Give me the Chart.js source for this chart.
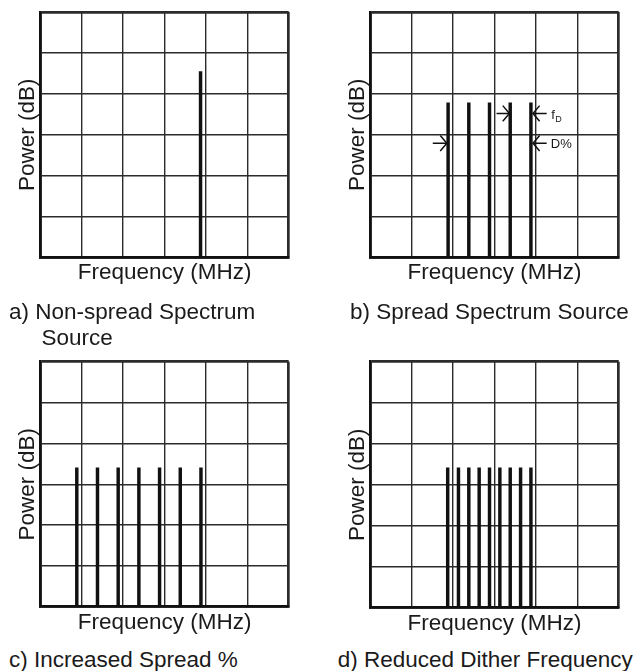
<!DOCTYPE html>
<html><head><meta charset="utf-8">
<script src="https://cdn.jsdelivr.net/npm/chart.js@4"></script>
<style>
html,body{margin:0;padding:0;background:#fff;width:642px;height:671px;overflow:hidden;position:relative;}
.wrap{position:absolute;}
canvas{display:block;}
.cap{position:absolute;font-family:"Liberation Sans",Arial,sans-serif;font-size:22.5px;color:#1a1a1a;white-space:nowrap;line-height:26.3px;}
</style></head><body>
<div class="wrap" style="left:0;top:0"><canvas id="ca" width="321" height="300"></canvas></div>
<div class="wrap" style="left:321px;top:0"><canvas id="cb" width="321" height="300"></canvas></div>
<div class="wrap" style="left:0;top:335px"><canvas id="cc" width="321" height="310"></canvas></div>
<div class="wrap" style="left:321px;top:335px"><canvas id="cd" width="321" height="310"></canvas></div>
<div class="cap" style="left:9px;top:298.5px">a) Non-spread Spectrum<br><span style="padding-left:32.4px">Source</span></div>
<div class="cap" style="left:350px;top:298.5px">b) Spread Spectrum Source</div>
<div class="cap" style="left:9px;top:647px">c) Increased Spread %</div>
<div class="cap" style="left:337.7px;top:647px">d) Reduced Dither Frequency</div>
<script>
// ---- data (grid units: 6 divisions on each axis) ----
const gridTicksX = [0, 1, 2, 3, 4, 5, 6];
const gridTicksY = [0, 1, 2, 3, 4, 5, 6];
const freqA = [3.87];
const powerA = [4.54];
const freqB = [1.88, 2.38, 2.88, 3.38, 3.88];
const powerB = [3.78, 3.78, 3.78, 3.78, 3.78];
const freqC = [0.88, 1.38, 1.88, 2.38, 2.88, 3.38, 3.88];
const powerC = [3.40, 3.40, 3.40, 3.40, 3.40, 3.40, 3.40];
const freqD = [1.87, 2.13, 2.38, 2.63, 2.88, 3.13, 3.38, 3.63, 3.88];
const powerD = [3.41, 3.41, 3.41, 3.41, 3.41, 3.41, 3.41, 3.41, 3.41];
// arrows in panel b: tail x, tip x, y
const arrowTail = [1.51, 3.05, 4.26, 4.26];
const arrowTip  = [1.85, 3.36, 3.93, 3.93];
const arrowY    = [2.79, 3.52, 3.52, 2.79];
const arrowHeadDx = [0.16, 0.16, 0.16, 0.16];
const arrowHeadDy = [0.19, 0.19, 0.19, 0.19];
// labels in panel b
const labelText = ['f', 'D%'];
const labelSub  = ['D', ''];
const labelX    = [4.37, 4.36];
const labelY    = [3.46, 2.76];
const xTitle = 'Frequency (MHz)';
const yTitle = 'Power (dB)';

const FONT = '"Liberation Sans", Arial, sans-serif';
const INK = '#111';
const GRID = '#2b2b2b';

function scaleOpts(ticks, title, pad) {
  return {
    type: 'linear', min: ticks[0], max: ticks[ticks.length - 1], offset: false,
    afterBuildTicks: s => { s.ticks = ticks.map(v => ({value: v})); },
    ticks: {display: false},
    grid: {
      color: GRID, drawTicks: false, offset: false,
      lineWidth: c => (c.tick && (c.tick.value === ticks[0] || c.tick.value === ticks[ticks.length - 1])) ? 2.7 : 1.4
    },
    border: {display: true, color: INK, width: 2.7},
    title: {display: true, text: title, color: '#1a1a1a',
      font: {family: FONT, size: 22.5, lineHeight: 1.15}, padding: pad}
  };
}

const labelPlugin = {
  id: 'sslabels',
  afterDatasetsDraw(chart) {
    const {ctx, scales: {x, y}} = chart;
    ctx.save();
    ctx.fillStyle = '#1a1a1a';
    ctx.textBaseline = 'middle';
    ctx.textAlign = 'left';
    labelText.forEach((t, i) => {
      const px = x.getPixelForValue(labelX[i]);
      const py = y.getPixelForValue(labelY[i]);
      ctx.font = '13px ' + FONT;
      ctx.fillText(t, px, py);
      if (labelSub[i]) {
        const w = ctx.measureText(t).width;
        ctx.font = '9px ' + FONT;
        ctx.fillText(labelSub[i], px + w + 0.5, py + 4);
      }
    });
    ctx.restore();
  }
};

function makePanel(id, freq, power, padding, extra) {
  const datasets = [{
    type: 'bar',
    data: freq.map((f, i) => ({x: f, y: power[i]})),
    backgroundColor: INK, borderWidth: 0, barThickness: 2.8, grouped: false, order: 1
  }];
  if (extra) datasets.push(...extra);
  return new Chart(document.getElementById(id), {
    type: 'bar',
    data: {datasets},
    options: {
      responsive: false, animation: false, devicePixelRatio: 1,
      layout: {padding},
      plugins: {legend: {display: false}, tooltip: {enabled: false}},
      scales: {
        x: scaleOpts(gridTicksX, xTitle, {top: 3, bottom: 0}),
        y: scaleOpts(gridTicksY, yTitle, {top: 4, bottom: 0})
      }
    },
    plugins: id === 'cb' ? [labelPlugin] : []
  });
}

// arrows for panel b
const arrowSets = [];
arrowTail.forEach((tail, i) => {
  const tip = arrowTip[i], yy = arrowY[i];
  const dir = tip > tail ? 1 : -1;
  const common = {type: 'line', borderColor: INK, borderWidth: 1.5, pointRadius: 0, fill: false, tension: 0, order: 0};
  arrowSets.push(Object.assign({data: [{x: tail, y: yy}, {x: tip, y: yy}]}, common));
  arrowSets.push(Object.assign({data: [
    {x: tip - dir * arrowHeadDx[i], y: yy + arrowHeadDy[i]},
    {x: tip, y: yy},
    {x: tip - dir * arrowHeadDx[i], y: yy - arrowHeadDy[i]}
  ]}, common));
});

makePanel('ca', freqA, powerA, {left: 10.5, top: 12, right: 32.3, bottom: 13.8});
makePanel('cb', freqB, powerB, {left: 19.4, top: 12, right: 23.3, bottom: 13.8}, arrowSets);
makePanel('cc', freqC, powerC, {left: 10.5, top: 26.7, right: 32.3, bottom: 9.4});
makePanel('cd', freqD, powerD, {left: 19.4, top: 26.7, right: 23.3, bottom: 8.4});
</script>
</body></html>
